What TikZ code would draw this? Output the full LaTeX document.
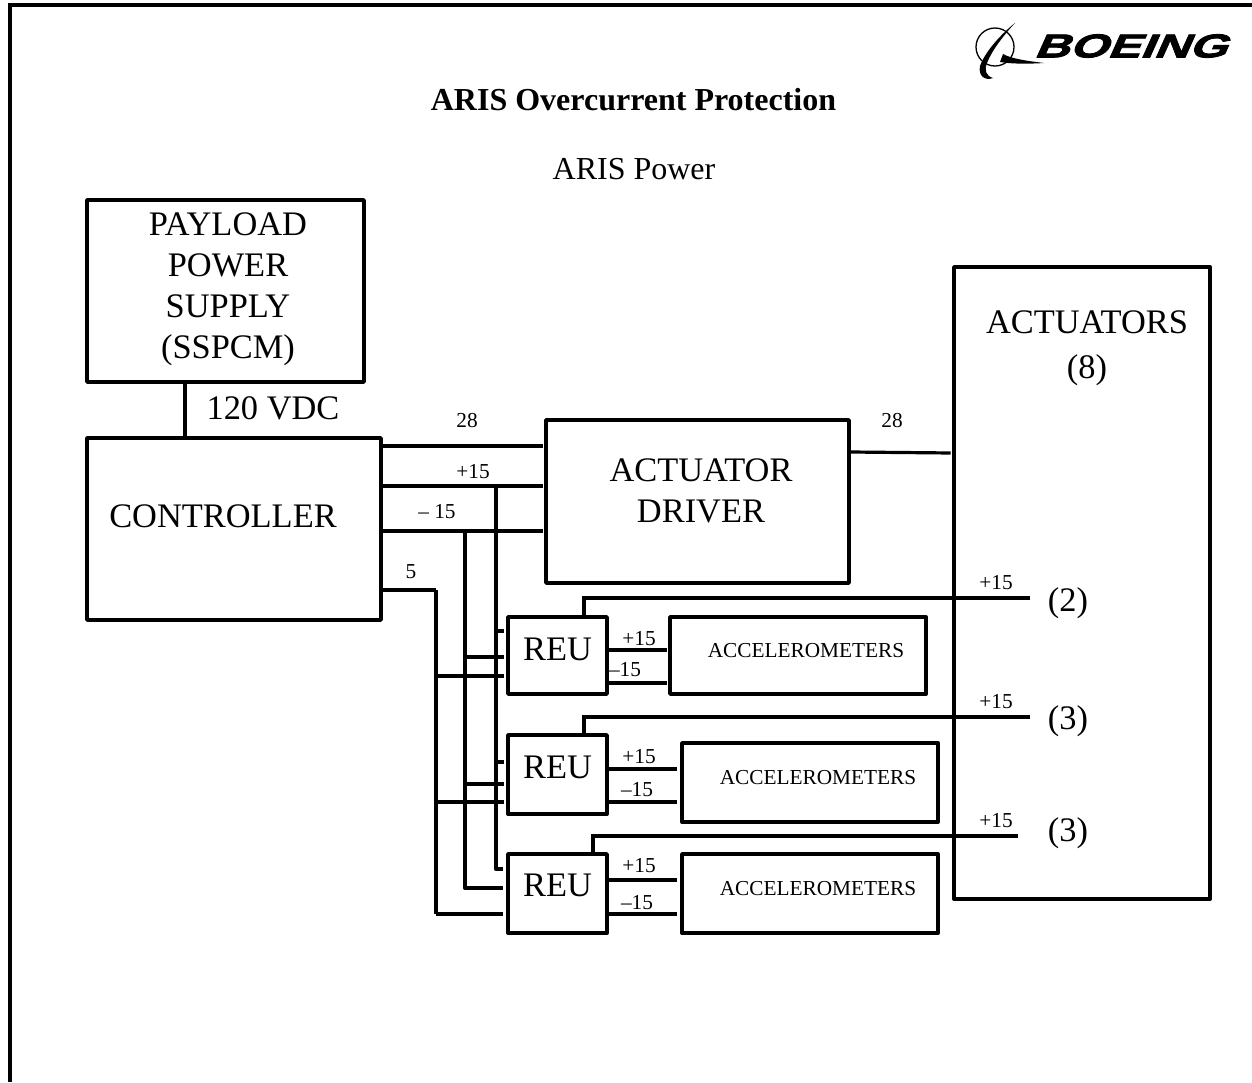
\documentclass[tikz,border=0pt]{standalone}
\usepackage{fontspec}
\setmainfont{Liberation Serif}
\newfontfamily\logofont[FakeSlant=.45,FakeStretch=1.48,FakeBold=2.5]{Liberation Sans}
\usetikzlibrary{positioning}
\tikzset{
  box/.style={draw,line width=3.8,inner sep=0,line join=round},
  wire/.style={line width=4.6,shorten >=1.5},
  thinwire/.style={line width=3.2,shorten >=1.5},
  big/.style={font=\fontsize{34.4}{41}\selectfont,align=center,inner sep=0},
  head/.style={font=\fontsize{32}{41}\selectfont,inner sep=0},
  small/.style={font=\fontsize{21.3}{25}\selectfont,inner sep=0}
}
\begin{document}
\begin{tikzpicture}[x=1pt,y=-1pt]
  \useasboundingbox (0,0) rectangle (1252,1082);
  \coordinate (frameTL) at (10,4.5);
  \coordinate (frameTR) at (1252,4.5);
  \coordinate (frameBL) at (10,1082);
  \draw[line width=4] (frameBL)--(frameTL)--(frameTR);

  % logo
  \node[inner sep=0,font=\logofont\bfseries\fontsize{33}{33}\selectfont] (logotext) at (1130,46) {BOEING};
  \draw[line width=1.3] (995,47) circle (19);
  \fill (1015,23) .. controls (1000,35) and (985,52) .. (980,66) .. controls (978,76) and (985,81) .. (993,78) .. controls (986,76) and (984,70) .. (987,63) .. controls (992,50) and (1004,35) .. (1015,23);
  \fill (1003,54) .. controls (1012,59) and (1028,61) .. (1044,63) .. controls (1028,64) and (1012,64) .. (1000,62) -- cycle;

  \node[head,font=\bfseries\fontsize{32}{41}\selectfont] (title) at (633.5,100) {ARIS Overcurrent Protection};
  \node[head] (subtitle) at (634,169) {ARIS Power};

  % boxes
  \node[box,minimum width=277,minimum height=182] (supply) at (225.5,291) {};
  \node[big] (supplylabel) at (228,289.5) {PAYLOAD\\POWER\\SUPPLY\\(SSPCM)};
  \node[box,minimum width=294,minimum height=182] (ctrl) at (234,529) {};
  \node[big] (ctrllabel) at (223,516) {CONTROLLER};
  \node[box,minimum width=303,minimum height=163] (driver) at (697.5,501.5) {};
  \node[big] (driverlabel) at (701,491) {ACTUATOR\\DRIVER};
  \node[box,minimum width=256,minimum height=632] (act) at (1082,583) {};
  \node[big] (actlabel) at (1087,348) {ACTUATORS\\[4pt](8)};

  \node[box,minimum width=99,minimum height=77] (reua) at (557.5,655.5) {};
  \node[box,minimum width=99,minimum height=79] (reub) at (557.5,774.5) {};
  \node[box,minimum width=99,minimum height=79] (reuc) at (557.5,893.5) {};
  \node[big] (reualabel) at (557.5,649) {REU};
  \node[big] (reublabel) at (557.5,767) {REU};
  \node[big] (reuclabel) at (557.5,885) {REU};

  \node[box,minimum width=256,minimum height=77] (accela) at (798,655.5) {};
  \node[box,minimum width=256,minimum height=79] (accelb) at (810,782.5) {};
  \node[box,minimum width=256,minimum height=79] (accelc) at (810,893.5) {};
  \node[small] (accelalabel) at (806,651) {ACCELEROMETERS};
  \node[small] (accelblabel) at (818,778) {ACCELEROMETERS};
  \node[small] (accelclabel) at (818,889) {ACCELEROMETERS};

  % supply and driver feeds
  \draw[wire,shorten >=0] (supply.south -| 185,0) -- (ctrl.north -| 185,0);
  \node[big] (vdc) at (273,408) {120 VDC};
  \draw[wire] (ctrl.east |- 0,446) -- (driver.west |- 0,446);
  \draw[wire] (ctrl.east |- 0,486) -- (driver.west |- 0,486);
  \draw[thinwire] (ctrl.east |- 0,531) -- (driver.west |- 0,531);
  \draw[thinwire] (driver.east |- 0,452) -- (act.west |- 0,453);
  \node[small] (la) at (467,421) {28};
  \node[small] (lb) at (473,472) {+15};
  \node[small] (lc) at (437,512) {-- 15};
  \node[small] (ld) at (411,572) {5};
  \node[small] (le) at (892,421) {28};

  % bus to the REUs
  \coordinate (bushigh) at (496,486);
  \coordinate (buslow) at (465,531);
  \coordinate (busfive) at (436,590);
  \draw[thinwire,shorten >=0] (ctrl.east |- busfive) -- (busfive);
  \draw[wire,shorten >=0,line join=round] (busfive) -- (436,914);
  \draw[thinwire,shorten >=0,line join=round] (436,914) -- ([xshift=-3]reuc.west |- 0,914);
  \draw[wire,shorten >=0,line join=round] (buslow) -- (465,888) -- ([xshift=-3]reuc.west |- 0,888);
  \draw[wire,shorten >=0,line join=round] (bushigh) -- (496,869) -- ([xshift=-3]reuc.west |- 0,869);
  \draw[wire,shorten >=0] (496,631) -- (504,631);
  \draw[wire,shorten >=0] (465,657) -- (504,657);
  \draw[thinwire,shorten >=0] (436,676) -- (504,676);
  \draw[wire,shorten >=0] (496,762) -- (504,762);
  \draw[wire,shorten >=0] (465,784) -- (504,784);
  \draw[wire,shorten >=0] (436,802) -- (504,802);

  % REU to actuators
  \draw[wire,shorten >=0] (reua.north -| 584,0) -- (584,598) -- (1030,598);
  \draw[wire,shorten >=0] (reub.north -| 584,0) -- (584,717) -- (1030,717);
  \draw[wire,shorten >=0] (reuc.north -| 593,0) -- (593,836) -- (1018,836);
  \node[small] (lf) at (996,583) {+15};
  \node[small] (lg) at (996,702) {+15};
  \node[small] (lh) at (996,821) {+15};
  \node[big] (na) at (1068,603) {(2)};
  \node[big] (nb) at (1068,721) {(3)};
  \node[big] (nc) at (1068,833) {(3)};

  % REU to accelerometers
  \draw[wire] (reua.east |- 0,650) -- (accela.west |- 0,650);
  \draw[thinwire] (reua.east |- 0,683) -- (accela.west |- 0,683);
  \draw[thinwire,shorten >=3] (reub.east |- 0,769) -- (accelb.west |- 0,769);
  \draw[wire,shorten >=3] (reub.east |- 0,802) -- (accelb.west |- 0,802);
  \draw[wire,shorten >=3] (reuc.east |- 0,880) -- (accelc.west |- 0,880);
  \draw[thinwire,shorten >=3] (reuc.east |- 0,914) -- (accelc.west |- 0,914);
  \node[small] (li) at (639,639) {+15};
  \node[small] (lj) at (625,670) {--15};
  \node[small] (lk) at (639,757) {+15};
  \node[small] (ll) at (637,790) {--15};
  \node[small] (lm) at (639,866) {+15};
  \node[small] (ln) at (637,903) {--15};
\end{tikzpicture}
\end{document}
